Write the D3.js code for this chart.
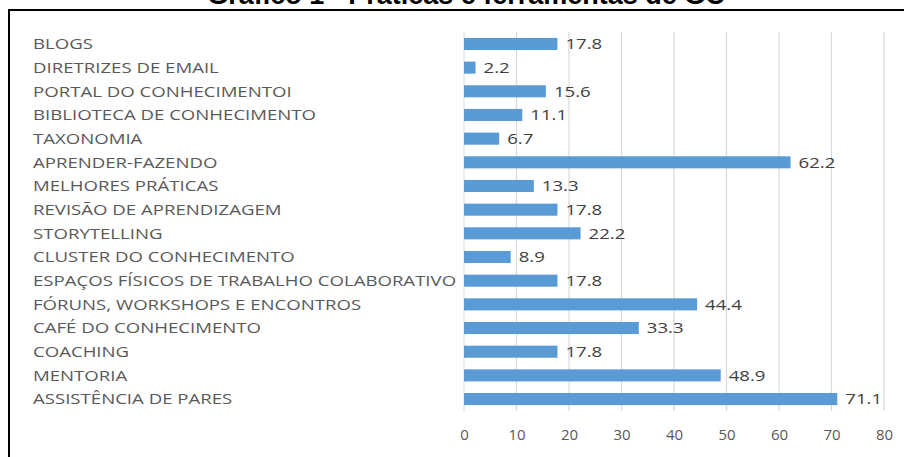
<!DOCTYPE html>
<html>
<head>
<meta charset="utf-8">
<script src="https://cdn.jsdelivr.net/npm/d3@7"></script>
<style>
body { margin: 0; background: #fff; }
</style>
</head>
<body>
<div id="chart"></div>
<script>
var categories = ["BLOGS", "DIRETRIZES DE EMAIL", "PORTAL DO CONHECIMENTOI", "BIBLIOTECA DE CONHECIMENTO",
    "TAXONOMIA", "APRENDER-FAZENDO", "MELHORES PRÁTICAS", "REVISÃO DE APRENDIZAGEM", "STORYTELLING",
    "CLUSTER DO CONHECIMENTO", "ESPAÇOS FÍSICOS DE TRABALHO COLABORATIVO", "FÓRUNS, WORKSHOPS E ENCONTROS",
    "CAFÉ DO CONHECIMENTO", "COACHING", "MENTORIA", "ASSISTÊNCIA DE PARES"];
var values = [17.8, 2.2, 15.6, 11.1, 6.7, 62.2, 13.3, 17.8, 22.2, 8.9, 17.8, 44.4, 33.3, 17.8, 48.9, 71.1];
var ticks = [0, 10, 20, 30, 40, 50, 60, 70, 80];
var title = "Gráfico 1 - Práticas e ferramentas de GC";

var W = 904, H = 457;
var stretch = 1.24; // the source text is wider than Open Sans

var svg = d3.select('#chart')
    .append('svg')
    .attr('width', W)
    .attr('height', H)
    .style('font-family', '"Open Sans", sans-serif');

// title, mostly cut off by the top edge in the source
svg.append('text')
    .attr('x', 466)
    .attr('y', 4)
    .attr('text-anchor', 'middle')
    .style('font-family', '"Liberation Sans", Arial, sans-serif')
    .style('font-size', '27px')
    .style('font-weight', 'bold')
    .style('fill', '#000')
    .text(title);

// frame
svg.append('rect')
    .attr('x', 9)
    .attr('y', 10)
    .attr('width', W + 10)
    .attr('height', H + 10)
    .attr('fill', '#fff')
    .attr('stroke', '#000')
    .attr('stroke-width', 2);

var x = d3.scaleLinear().domain([0, 80]).range([464, 884]);
var y = d3.scaleBand().domain(categories).range([32, 411]).paddingInner(0.49).paddingOuter(0.25);

function widen(sel) {
    sel.each(function () {
        var len = this.getComputedTextLength();
        d3.select(this)
            .attr('textLength', len * stretch)
            .attr('lengthAdjust', 'spacingAndGlyphs');
    });
}

// gridlines
svg.append('g')
    .selectAll('line')
    .data(ticks.slice(1))
    .enter()
    .append('line')
    .attr('x1', function (d) { return x(d) })
    .attr('x2', function (d) { return x(d) })
    .attr('y1', 32)
    .attr('y2', 411)
    .attr('stroke', '#d9d9d9')
    .attr('stroke-width', 1.2);

svg.append('line')
    .attr('x1', x(0)).attr('x2', x(0))
    .attr('y1', 32).attr('y2', 411)
    .attr('stroke', '#d9d9d9');

svg.append('g')
    .selectAll('rect')
    .data(values)
    .enter()
    .append('rect')
    .attr('x', x(0))
    .attr('y', function (d, i) { return y(categories[i]) })
    .attr('width', function (d) { return x(d) - x(0) })
    .attr('height', y.bandwidth())
    .attr('fill', '#5b9bd5');

// value labels
svg.append('g')
    .selectAll('text')
    .data(values)
    .enter()
    .append('text')
    .attr('x', function (d) { return x(d) + 8 })
    .attr('y', function (d, i) { return y(categories[i]) + y.bandwidth() / 2 })
    .attr('dy', '0.36em')
    .style('font-size', '15px')
    .style('fill', '#404040')
    .text(function (d) { return d.toFixed(1) })
    .call(widen);

// category labels
svg.append('g')
    .selectAll('text')
    .data(categories)
    .enter()
    .append('text')
    .attr('x', 33)
    .attr('y', function (d) { return y(d) + y.bandwidth() / 2 })
    .attr('dy', '0.36em')
    .style('font-size', '15px')
    .style('fill', '#595959')
    .text(function (d) { return d })
    .call(widen);

// x axis
var xAxis = svg.append('g')
    .attr('transform', 'translate(0, 424)')
    .call(d3.axisBottom(x).tickValues(ticks).tickSize(0).tickPadding(5));
xAxis.select('.domain').remove();
xAxis.selectAll('text')
    .style('font-family', '"Open Sans", sans-serif')
    .style('font-size', '15px')
    .style('fill', '#595959');
</script>
</body>
</html>
